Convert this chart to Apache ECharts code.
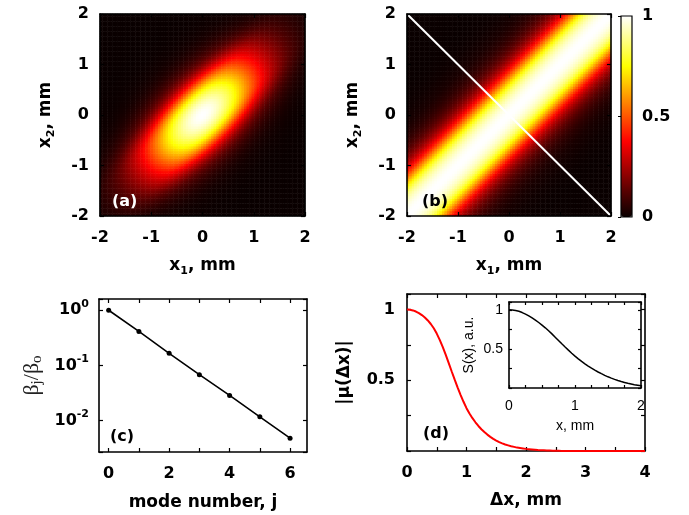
<!DOCTYPE html>
<html>
<head>
<meta charset="utf-8">
<script src="https://cdn.jsdelivr.net/npm/echarts@6/dist/echarts.min.js"></script>
<style>
html,body{margin:0;padding:0;background:#fff}
#main{width:689px;height:515px}
</style>
</head>
<body>
<div id="main"></div>
<script>
// sample spacing of the profiles, mm
var step = 0.05;

// |mu(dx)|, red curve of panel (d), dx = 0, 0.05 ... 4
var muVal = [1.000, 0.999, 0.994, 0.986, 0.975, 0.961, 0.944, 0.923, 0.898, 0.868,
  0.830, 0.786, 0.736, 0.681, 0.623, 0.564, 0.506, 0.450, 0.397, 0.348,
  0.303, 0.265, 0.232, 0.203, 0.177, 0.154, 0.134, 0.116, 0.100, 0.086,
  0.074, 0.063, 0.054, 0.046, 0.040, 0.034, 0.029, 0.024, 0.021, 0.018,
  0.015, 0.013, 0.011, 0.009, 0.007, 0.006, 0.005, 0.004, 0.003, 0.002,
  0.002, 0.001, 0, 0, 0, 0, 0, 0, 0, 0,
  0, 0, 0, 0, 0, 0, 0, 0, 0, 0,
  0, 0, 0, 0, 0, 0, 0, 0, 0, 0, 0];

// S(x), inset of panel (d), x = 0, 0.05 ... 2
var sVal = [1.000, 0.998, 0.992, 0.981, 0.965, 0.945, 0.922, 0.897, 0.869, 0.838,
  0.805, 0.770, 0.732, 0.692, 0.650, 0.608, 0.565, 0.524, 0.484, 0.445,
  0.408, 0.373, 0.340, 0.309, 0.280, 0.253, 0.228, 0.205, 0.183, 0.162,
  0.143, 0.126, 0.110, 0.095, 0.082, 0.071, 0.060, 0.051, 0.042, 0.035, 0.028];

// panel (c)
var modeJ = [0, 1, 2, 3, 4, 5, 6];
var betaRatio = [1, 0.413, 0.166, 0.068, 0.0286, 0.0117, 0.0048];

// white cut line in panel (b): x2 = -x1
var cutX = [-2, 2];

// tick labels
var modeTicks = [0, 1, 2, 3, 4, 5, 6];
var modeLabels = [0, 2, 4, 6];

// matlab "hot"
var hot = ['#0a0000', '#550000', '#aa0000', '#ff0000', '#ff5500', '#ffaa00', '#ffff00', '#ffff80', '#ffffff'];

var cells = [];
for (var i = 0; i < 81; i++) cells.push((-2 + i * step).toFixed(2));

function muAt(d) {
  var k = Math.round(Math.abs(d) / step);
  return k < muVal.length ? muVal[k] : 0;
}
function sAt(x) {
  return sVal[Math.round(Math.abs(x) / step)];
}

// (a) W(x1,x2) = sqrt(S(x1)S(x2)) |mu(x1-x2)|,  (b) |mu(x1-x2)|
var heatA = [], heatB = [];
for (var a = 0; a < cells.length; a++) {
  for (var b = 0; b < cells.length; b++) {
    var x1 = +cells[a], x2 = +cells[b];
    heatA.push([a, b, Math.sqrt(sAt(x1) * sAt(x2)) * muAt(x1 - x2)]);
    heatB.push([a, b, muAt(x1 - x2)]);
  }
}

var bold = {fontFamily: 'DejaVu Sans', fontWeight: 'bold', fontSize: 16, color: '#000'};
var thin = {fontFamily: 'Liberation Sans', fontSize: 14, color: '#000'};
var nameRich = {
  n: {fontFamily: 'DejaVu Sans', fontWeight: 'bold', fontSize: 17, lineHeight: 22, color: '#000'},
  s: {fontFamily: 'DejaVu Sans', fontWeight: 'bold', fontSize: 11, verticalAlign: 'bottom', color: '#000'}
};
var tick = {show: true, inside: true, length: 4, lineStyle: {color: '#000', width: 1.2}};
var axLine = {show: true, onZero: false, lineStyle: {color: '#000', width: 1.6}};

var grids = [], xAxes = [], yAxes = [], series = [];

function addGrid(pos) {
  grids.push(Object.assign({outerBoundsMode: 'none', containLabel: false}, pos));
  return grids.length - 1;
}

// bottom/left axes plus mirrored top/right ticks, like a matlab box
function addBox(gi, x, y, z) {
  var xi = xAxes.length, yi = yAxes.length;
  var bx = Object.assign({gridIndex: gi, type: 'value', position: 'bottom', axisLine: axLine, axisTick: tick,
    splitLine: {show: false}, z: z || 0}, x);
  var by = Object.assign({gridIndex: gi, type: 'value', position: 'left', axisLine: axLine, axisTick: tick,
    splitLine: {show: false}, z: z || 0}, y);
  xAxes.push(bx);
  yAxes.push(by);
  xAxes.push(Object.assign({}, bx, {position: 'top', name: '', axisLabel: Object.assign({}, bx.axisLabel, {show: false})}));
  yAxes.push(Object.assign({}, by, {position: 'right', name: '', axisLabel: Object.assign({}, by.axisLabel, {show: false})}));
  return [xi, yi];
}

function addCatGrid(pos) {
  var gi = addGrid(pos);
  xAxes.push({gridIndex: gi, type: 'category', data: cells, show: false});
  yAxes.push({gridIndex: gi, type: 'category', data: cells, show: false});
  return [xAxes.length - 1, yAxes.length - 1];
}

var posA = {left: 100, top: 14, width: 205, height: 202};
var posB = {left: 407, top: 14, width: 204, height: 202};
var posBar = {left: 621, top: 16, width: 11, height: 201};
var posC = {left: 99, top: 299, width: 208, height: 153};
var posD = {left: 407, top: 294, width: 238, height: 157};
var posIn = {left: 509, top: 302, width: 132, height: 86};

// heatmaps first so visualMap can point at series 0 and 1
var ha = addCatGrid(posA);
series.push({type: 'heatmap', xAxisIndex: ha[0], yAxisIndex: ha[1], data: heatA, progressive: 0, emphasis: {disabled: true}});
var hb = addCatGrid(posB);
series.push({type: 'heatmap', xAxisIndex: hb[0], yAxisIndex: hb[1], data: heatB, progressive: 0, emphasis: {disabled: true}});

function mapAxes(pos) {
  var gi = addGrid(pos);
  return addBox(gi,
    {min: -2, max: 2, interval: 1, axisLabel: Object.assign({margin: 14}, bold),
      name: '{n|x}{s|1}{n|, mm}', nameLocation: 'middle', nameGap: 39, nameTextStyle: {rich: nameRich}},
    {min: -2, max: 2, interval: 1, axisLabel: Object.assign({margin: 11}, bold),
      name: '{n|x}{s|2}{n|, mm}', nameLocation: 'middle', nameGap: 43, nameRotate: 90, nameTextStyle: {rich: nameRich}},
    5);
}
mapAxes(posA);
var ab = mapAxes(posB);
series.push({type: 'line', xAxisIndex: ab[0], yAxisIndex: ab[1], showSymbol: false, z: 4,
  data: cutX.map(function (x) { return [x, -x]; }),
  lineStyle: {color: '#fff', width: 2}});

// colour bar frame and labels
var gBar = addGrid(Object.assign({show: true, borderColor: '#000', borderWidth: 1.2, z: 10}, posBar));
xAxes.push({gridIndex: gBar, type: 'value', min: 0, max: 1, show: false});
yAxes.push({gridIndex: gBar, type: 'value', min: 0, max: 1, interval: 0.5, position: 'right', z: 10,
  axisLine: {show: false}, axisTick: {show: true, inside: true, length: 3, lineStyle: {color: '#000'}},
  splitLine: {show: false}, axisLabel: Object.assign({margin: 10}, bold)});

// (c) log plot
var gC = addGrid(posC);
var ac = addBox(gC,
  {min: -0.32, max: 6.56, axisTick: Object.assign({customValues: modeTicks}, tick),
    axisLabel: Object.assign({margin: 14, customValues: modeLabels}, bold),
    name: 'mode number, j', nameLocation: 'middle', nameGap: 42, nameTextStyle: Object.assign({}, bold, {fontSize: 17})},
  {type: 'log', logBase: 10, min: 0.0027, max: 1.6,
    axisLabel: {margin: 10, formatter: function (v) {
      var e = Math.log10(v), r = Math.round(e);
      if (Math.abs(e - r) > 1e-6) return '';
      return '{b|10}{s|' + r + '}';
    }, rich: {
      b: {fontFamily: 'DejaVu Sans', fontWeight: 'bold', fontSize: 16, lineHeight: 24, color: '#000'},
      s: {fontFamily: 'DejaVu Sans', fontWeight: 'bold', fontSize: 11, verticalAlign: 'top', color: '#000'}
    }},
    name: '{g|β}{t|j}{g|/β}{t|o}', nameLocation: 'middle', nameGap: 54, nameRotate: 90,
    nameTextStyle: {rich: {
      g: {fontFamily: 'Liberation Serif', fontSize: 22, lineHeight: 26, color: '#222'},
      t: {fontFamily: 'Liberation Serif', fontSize: 15, verticalAlign: 'bottom', color: '#222'}
    }}});
series.push({type: 'line', xAxisIndex: ac[0], yAxisIndex: ac[1], symbol: 'circle', symbolSize: 5,
  data: modeJ.map(function (j, k) { return [j, betaRatio[k]]; }),
  itemStyle: {color: '#000'}, lineStyle: {color: '#000', width: 1.6}});

// (d) degree of coherence
var gD = addGrid(posD);
var ad = addBox(gD,
  {min: 0, max: 4, interval: 0.5,
    axisLabel: Object.assign({margin: 14, formatter: function (v) { return v % 1 === 0 ? String(v) : ''; }}, bold),
    name: 'Δx, mm', nameLocation: 'middle', nameGap: 41, nameTextStyle: Object.assign({}, bold, {fontSize: 17})},
  {min: 0, max: 1.11, interval: 0.25,
    axisLabel: Object.assign({margin: 12, formatter: function (v) { return (v === 0.5 || v === 1) ? String(v) : ''; }}, bold),
    name: '|μ(Δx)|', nameLocation: 'middle', nameGap: 54, nameRotate: 90, nameTextStyle: Object.assign({}, bold, {fontSize: 17})});
series.push({type: 'line', xAxisIndex: ad[0], yAxisIndex: ad[1], showSymbol: false, clip: false,
  data: muVal.map(function (v, k) { return [k * step, v]; }),
  lineStyle: {color: '#ff0000', width: 2}});

// inset S(x)
var gIn = addGrid(Object.assign({show: true, backgroundColor: '#fff', borderWidth: 0}, posIn));
var tickIn = {show: true, inside: true, length: 3, lineStyle: {color: '#000', width: 1.2}};
var ai = addBox(gIn,
  {min: 0, max: 2, interval: 0.25, axisTick: tickIn,
    axisLabel: Object.assign({margin: 11, formatter: function (v) { return v % 1 === 0 ? String(v) : ''; }}, thin),
    name: 'x, mm', nameLocation: 'middle', nameGap: 31, nameTextStyle: thin},
  {min: 0, max: 1.1, interval: 0.25, axisTick: tickIn,
    axisLabel: Object.assign({margin: 6, formatter: function (v) { return (v === 0.5 || v === 1) ? String(v) : ''; }}, thin),
    name: 'S(x), a.u.', nameLocation: 'middle', nameGap: 33, nameRotate: 90, nameTextStyle: thin});
series.push({type: 'line', xAxisIndex: ai[0], yAxisIndex: ai[1], showSymbol: false, clip: false,
  data: sVal.map(function (v, k) { return [k * step, v]; }),
  lineStyle: {color: '#000', width: 1.5}});

function tag(txt, x, y, col) {
  return {type: 'text', left: x, top: y, z: 20,
    style: {text: txt, fill: col, font: 'bold 16px "DejaVu Sans"'}};
}

var chart = echarts.init(document.getElementById('main'), null, {renderer: 'canvas'});
chart.setOption({
  animation: false,
  backgroundColor: '#fff',
  grid: grids,
  xAxis: xAxes,
  yAxis: yAxes,
  series: series,
  visualMap: {
    type: 'continuous', min: 0, max: 1, seriesIndex: [0, 1], show: true,
    left: posBar.left, top: posBar.top, itemWidth: posBar.width, itemHeight: posBar.height,
    padding: 0, calculable: false, text: null, showLabel: false,
    inRange: {color: hot}
  },
  graphic: [
    tag('(a)', 112, 194, '#fff'),
    tag('(b)', 422, 194, '#000'),
    tag('(c)', 110, 429, '#000'),
    tag('(d)', 423, 426, '#000')
  ]
});
</script>
</body>
</html>
